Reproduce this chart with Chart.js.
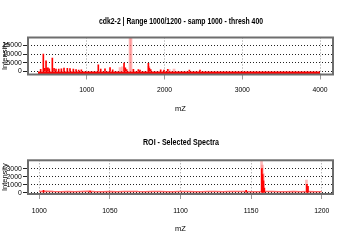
<!DOCTYPE html>
<html>
<head>
<meta charset="utf-8">
<script src="https://cdn.jsdelivr.net/npm/chart.js@4.4.1/dist/chart.umd.min.js"></script>
<style>
    html, body { margin: 0; padding: 0; background: #fff; }
    .panel { position: relative; width: 346px; height: 120px; }
</style>
</head>
<body>
<div class="panel"><canvas id="full"></canvas></div>
<div class="panel"><canvas id="roi"></canvas></div>
<script>
// full spectrum: peaks (m/z, intensity)
const fullMz  = [408, 442, 460, 477, 490, 502, 519, 558, 580, 605, 640, 674, 708, 751, 785, 828, 863, 897, 931,
                 1149, 1180, 1235, 1300, 1334, 1480, 1497, 1514, 1600, 1664, 1686, 1793, 1806, 1823, 1951, 1994, 2042, 2320, 2457];
const fullInt = [1300, 10100, 1800, 6200, 2000, 2200, 1600, 7700, 1800, 1400, 1400, 1600, 2000, 1800, 1700, 1400, 1100, 900, 1000,
                 3900, 1350, 1500, 2300, 1000, 4850, 2100, 1200, 1300, 1100, 900, 4700, 2000, 1200, 1000, 900, 1300, 800, 800];
const fullPaleMz  = [1428, 1458, 1557, 1570, 1798, 2062, 2123];
const fullPaleInt = [2300, 2700, 30000, 30000, 3000, 1200, 1400];
const fullBaseMz  = [373, 4000];
const fullBaseInt = [0, 0];
const fullXTicks = [1000, 2000, 3000, 4000];
const fullYTicks = [0, 5000, 10000, 15000];

// ROI 1000-1200
const roiMz  = [1003, 1036, 1146.5, 1157.6, 1158.2, 1158.8, 1159.4, 1189.5, 1190.3];
const roiInt = [300, 200, 300, 3050, 2300, 1500, 600, 1050, 800];
const roiPaleMz  = [1157.4, 1158.0, 1158.6, 1189.2];
const roiPaleInt = [4500, 3500, 2400, 1600];
const roiNoiseMz  = [1000, 1005, 1010, 1015, 1020, 1025, 1030, 1035, 1040, 1045, 1050, 1055, 1060, 1065, 1070, 1075, 1080, 1085, 1090, 1095,
                     1100, 1105, 1110, 1115, 1120, 1125, 1130, 1135, 1140, 1145, 1150, 1155, 1160, 1165, 1170, 1175, 1180, 1185, 1190, 1195, 1200];
const roiNoiseInt = [150, 180, 140, 120, 150, 130, 160, 190, 130, 120, 140, 130, 150, 170, 140, 130, 160, 140, 120, 130,
                     150, 140, 130, 120, 140, 150, 130, 140, 150, 170, 130, 120, 150, 140, 130, 120, 140, 130, 160, 130, 120];
const roiXTicks = [1000, 1050, 1100, 1150, 1200];
const roiYTicks = [0, 1000, 2000, 3000];

const FONT = '"Liberation Sans", Arial, sans-serif';
const RED = '#ff0000';
const PALE = 'rgba(255, 120, 120, 0.5)';

function pts(xs, ys) {
    return xs.map((x, i) => ({ x: x, y: ys[i] }));
}

// plot frame, drawn over the data like R's box()
const boxPlugin = {
    id: 'box',
    afterDatasetsDraw(chart) {
        const a = chart.chartArea;
        const ctx = chart.ctx;
        ctx.save();
        ctx.strokeStyle = '#6e6e6e';
        ctx.lineWidth = 2;
        ctx.strokeRect(a.left, a.top, a.right - a.left, a.bottom - a.top);
        ctx.restore();
    }
};

// main title, squeezed horizontally to the narrow face of the original
const mainTitle = {
    id: 'mainTitle',
    afterDraw(chart, args, opts) {
        const ctx = chart.ctx;
        ctx.save();
        ctx.font = 'bold 9.5px ' + FONT;
        ctx.fillStyle = '#000';
        const w = ctx.measureText(opts.text).width;
        ctx.translate(opts.x, opts.y);
        ctx.scale(opts.width / w, 1);
        ctx.textAlign = 'center';
        ctx.textBaseline = 'alphabetic';
        ctx.fillText(opts.text, 0, 0);
        ctx.restore();
    }
};

function makeChart(id, o) {
    return new Chart(document.getElementById(id), {
        type: 'bar',
        data: {
            datasets: [
                { type: 'line', data: pts(o.baseMz, o.baseInt), borderColor: o.baseColor, borderWidth: o.baseWidth,
                  backgroundColor: RED, fill: o.baseFill, pointRadius: 0, tension: 0, order: 3 },
                { data: pts(o.paleMz, o.paleInt), backgroundColor: PALE, barThickness: 2, order: 2 },
                { data: pts(o.mz, o.int), backgroundColor: RED, barThickness: 1, order: 1 },
            ],
        },
        options: {
            responsive: true,
            maintainAspectRatio: false,
            animation: false,
            grouped: false,
            layout: { padding: { left: 0, right: 13, top: o.top, bottom: 0 } },
            plugins: {
                legend: { display: false },
                tooltip: { enabled: false },
                title: { display: false },
                mainTitle: { text: o.title, x: 181, y: o.titleY, width: o.titleW },
            },
            scales: {
                x: {
                    type: 'linear', min: o.xMin, max: o.xMax, offset: false,
                    afterBuildTicks: s => { s.ticks = o.xTicks.map(v => ({ value: v })); },
                    afterFit: s => { s.height = o.xHeight; },
                    grid: { color: '#999', offset: false, tickLength: 5, lineWidth: 1 },
                    border: { display: false, dash: [1, 2] },
                    ticks: { color: '#000', font: { family: FONT, size: 6.8 }, padding: o.xPad, maxRotation: 0,
                             autoSkip: false, callback: v => String(v) },
                    title: { display: true, text: 'mZ', color: '#000', font: { family: FONT, size: 7.5 },
                             padding: { top: 2, bottom: 7 } },
                },
                y: {
                    min: o.yMin, max: o.yMax,
                    afterBuildTicks: s => { s.ticks = o.yTicks.map(v => ({ value: v })); },
                    afterFit: s => { s.width = 28; },
                    grid: { color: '#222', tickLength: 5, lineWidth: 1 },
                    border: { display: false, dash: [1, 2] },
                    ticks: { color: '#000', font: { family: FONT, size: 6.8 }, padding: 1.3,
                             autoSkip: false, callback: v => String(v) },
                    title: { display: true, text: 'Intensity', color: '#000', font: { family: FONT, size: 7.5 },
                             padding: { top: 0.8, bottom: 0 } },
                },
            },
        },
        plugins: [boxPlugin, mainTitle],
    });
}

makeChart('full', {
    title: 'cdk2-2 | Range 1000/1200 - samp 1000 - thresh 400', titleY: 24, titleW: 164, top: 37.5,
    mz: fullMz, int: fullInt, paleMz: fullPaleMz, paleInt: fullPaleInt,
    baseMz: fullBaseMz, baseInt: fullBaseInt, baseColor: RED, baseWidth: 0, baseFill: 'start',
    xMin: 245, xMax: 4167, yMin: -1700, yMax: 19600,
    xTicks: fullXTicks, yTicks: fullYTicks, xHeight: 45.5, xPad: 6.4,
});

makeChart('roi', {
    title: 'ROI - Selected Spectra', titleY: 25, titleW: 76, top: 40.3,
    mz: roiMz, int: roiInt, paleMz: roiPaleMz, paleInt: roiPaleInt,
    baseMz: roiNoiseMz, baseInt: roiNoiseInt, baseColor: 'rgba(255, 0, 0, 0.6)', baseWidth: 1.5, baseFill: false,
    xMin: 992, xMax: 1208, yMin: -160, yMax: 4090,
    xTicks: roiXTicks, yTicks: roiYTicks, xHeight: 46, xPad: 7.6,
});
</script>
</body>
</html>
